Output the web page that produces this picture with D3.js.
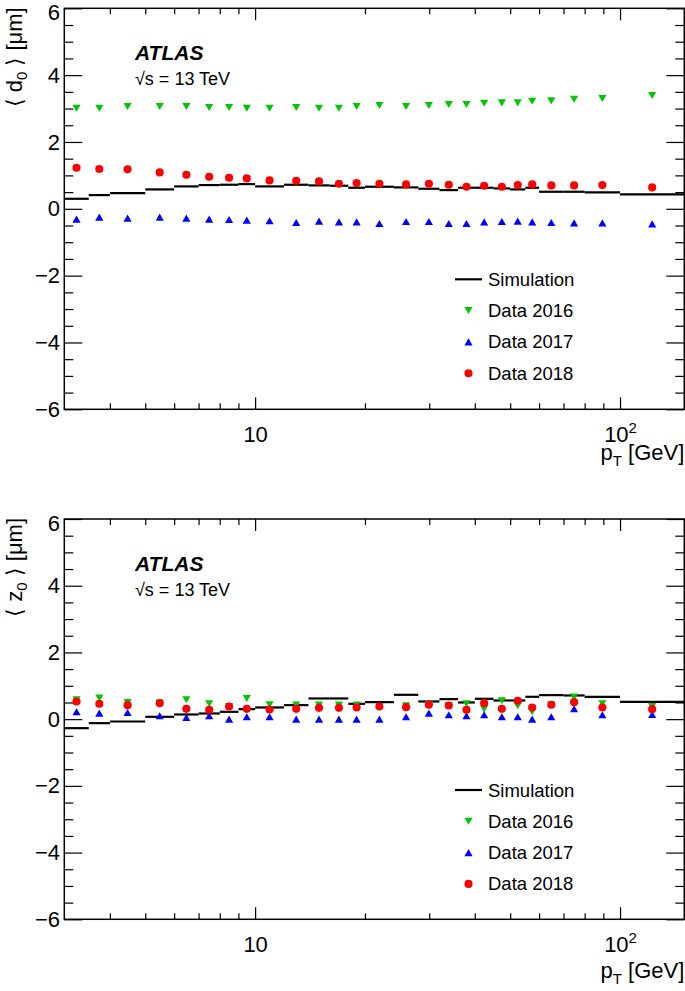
<!DOCTYPE html>
<html>
<head>
<meta charset="utf-8">
<script src="https://cdn.jsdelivr.net/npm/d3@7"></script>
<style>
body { margin: 0; background: #fff; }
svg text { font-family: "Liberation Sans", Arial, Helvetica, sans-serif; fill: #000; }
</style>
</head>
<body>
<svg id="chart" width="685" height="991"></svg>
<script>

// pT bin edges [GeV]
const pt_edges = [3, 3.5, 4, 5, 6, 7, 8, 9, 10, 12, 14, 16, 18, 20, 24, 28, 32, 36, 40, 45, 50, 55, 60, 70, 80, 100, 150];

const series_names = ['Simulation', 'Data 2016', 'Data 2017', 'Data 2018'];
const series_colors = ['#000000', '#00c800', '#0000ff', '#ff0000'];

const y_ticks = [-6, -4, -2, 0, 2, 4, 6];
const x_ticks = [10, 100];
const x_minor_ticks = [4, 5, 6, 7, 8, 9, 20, 30, 40, 50, 60, 70, 80, 90];

// <d0> [um]
const d0_sim  = [0.30, 0.41, 0.47, 0.58, 0.67, 0.71, 0.72, 0.74, 0.67, 0.72, 0.70, 0.69, 0.63, 0.66, 0.64, 0.60, 0.56, 0.63, 0.63, 0.61, 0.58, 0.63, 0.51, 0.51, 0.49, 0.43];
const d0_2016 = [3.01, 3.01, 3.06, 3.06, 3.06, 3.03, 3.03, 3.01, 3.01, 3.03, 3.01, 3.01, 3.06, 3.09, 3.06, 3.09, 3.12, 3.12, 3.16, 3.17, 3.17, 3.22, 3.23, 3.28, 3.30, 3.39];
const d0_2017 = [-0.31, -0.25, -0.28, -0.25, -0.28, -0.31, -0.32, -0.34, -0.36, -0.41, -0.37, -0.39, -0.39, -0.44, -0.38, -0.38, -0.44, -0.44, -0.39, -0.38, -0.37, -0.39, -0.41, -0.42, -0.42, -0.45];
const d0_2018 = [1.23, 1.19, 1.18, 1.09, 1.02, 0.96, 0.93, 0.91, 0.85, 0.84, 0.82, 0.75, 0.77, 0.75, 0.73, 0.75, 0.72, 0.66, 0.69, 0.66, 0.71, 0.73, 0.70, 0.70, 0.71, 0.64];

// <z0> [um]
const z0_sim  = [-0.27, -0.12, -0.07, 0.07, 0.14, 0.17, 0.22, 0.30, 0.35, 0.42, 0.62, 0.62, 0.46, 0.51, 0.73, 0.53, 0.60, 0.50, 0.61, 0.56, 0.56, 0.67, 0.72, 0.71, 0.67, 0.52];
const z0_2016 = [0.58, 0.63, 0.50, 0.48, 0.58, 0.46, 0.38, 0.62, 0.43, 0.42, 0.42, 0.42, 0.42, 0.38, 0.40, 0.43, 0.41, 0.46, 0.30, 0.55, 0.40, 0.22, 0.43, 0.66, 0.46, 0.38];
const z0_2017 = [0.22, 0.18, 0.20, 0.10, 0.05, 0.10, 0.00, 0.07, 0.07, 0.00, 0.00, 0.00, 0.00, 0.00, 0.07, 0.18, 0.13, 0.10, 0.13, 0.07, 0.07, 0.00, 0.07, 0.31, 0.13, 0.14];
const z0_2018 = [0.53, 0.46, 0.42, 0.48, 0.31, 0.28, 0.38, 0.31, 0.29, 0.31, 0.34, 0.34, 0.35, 0.38, 0.36, 0.43, 0.41, 0.28, 0.48, 0.31, 0.55, 0.35, 0.43, 0.51, 0.35, 0.30];

// triangles centred on their bounding box, like ROOT markers
const triUp = {
    draw(ctx, size){
        const s = Math.sqrt(size * 4 / Math.sqrt(3));
        const h = s * Math.sqrt(3) / 2;
        ctx.moveTo(0, -h/2);
        ctx.lineTo(s/2, h/2);
        ctx.lineTo(-s/2, h/2);
        ctx.closePath();
    }
};
const triDown = {
    draw(ctx, size){
        const s = Math.sqrt(size * 4 / Math.sqrt(3));
        const h = s * Math.sqrt(3) / 2;
        ctx.moveTo(0, h/2);
        ctx.lineTo(s/2, -h/2);
        ctx.lineTo(-s/2, -h/2);
        ctx.closePath();
    }
};

class MeanPlot {

    constructor( config, data ){
        this.config = {
            parent: config.parent,
            top: config.top,
            left: config.left || 64.3,
            width: config.width || 620,
            height: config.height || 401,
            var_name: config.var_name || 'd',
            xtitle_y: config.xtitle_y
        }
        this.data = data;
        this.init();
    }

    init(){
        let self = this;

        self.svg = d3.select( self.config.parent );

        self.chart = self.svg.append('g')
            .attr('transform', `translate(${self.config.left}, ${self.config.top})`);

        self.xscale = d3.scaleLog()
            .domain( [3, 150] )
            .range( [0, self.config.width] );

        self.yscale = d3.scaleLinear()
            .domain( [-6, 6] )
            .range( [self.config.height, 0] );

        self.bins = pt_edges.slice(0, -1).map( (lo, i) => ({
            lo: lo,
            hi: pt_edges[i+1],
            c: Math.sqrt(lo * pt_edges[i+1])
        }));

        // axis titles
        const ytitle = self.svg.append('text')
            .attr('transform', 'rotate(-90)')
            .attr('x', -self.config.top + 1)
            .attr('y', 22)
            .attr('text-anchor', 'end')
            .style('font-size', '22px');
        ytitle.append('tspan').text('\u27E8 ' + self.config.var_name);
        ytitle.append('tspan').attr('dy', 5).style('font-size', '15px').text('0');
        ytitle.append('tspan').attr('dy', -5).text(' \u27E9 [\u03BCm]');

        const xtitle = self.svg.append('text')
            .attr('x', self.config.left + self.config.width)
            .attr('y', self.config.xtitle_y)
            .attr('text-anchor', 'end')
            .style('font-size', '22px');
        xtitle.append('tspan').text('p');
        xtitle.append('tspan').attr('dy', 6).style('font-size', '15px').text('T');
        xtitle.append('tspan').attr('dy', -6).text(' [GeV]');

        // labels
        self.chart.append('text')
            .attr('x', 135 - self.config.left)
            .attr('y', 51.5)
            .style('font-size', '21px')
            .style('font-weight', 'bold')
            .style('font-style', 'italic')
            .text('ATLAS');

        self.chart.append('text')
            .attr('x', 135 - self.config.left)
            .attr('y', 76.5)
            .style('font-size', '18px')
            .text('\u221As = 13 TeV');

        self.axis_g = self.chart.append('g');
        self.marks_g = self.chart.append('g');
        self.legend_g = self.chart.append('g')
            .attr('transform', `translate(${455 - self.config.left}, 271)`);
    }

    render(){
        let self = this;
        const W = self.config.width, H = self.config.height;

        // simulation: horizontal bin segments
        self.marks_g.selectAll('.sim')
            .data( self.bins.map( (b, i) => ({...b, v: self.data.sim[i]}) ) )
            .join('line')
            .attr('class', 'sim')
            .attr('x1', d => self.xscale(d.lo))
            .attr('x2', d => self.xscale(d.hi))
            .attr('y1', d => self.yscale(d.v))
            .attr('y2', d => self.yscale(d.v))
            .attr('stroke', series_colors[0])
            .attr('stroke-width', 2.2);

        const markers = [
            { key: 'y2016', type: triDown, size: 29, color: series_colors[1] },
            { key: 'y2017', type: triUp, size: 29, color: series_colors[2] },
            { key: 'y2018', type: d3.symbolCircle, size: 52, color: series_colors[3] }
        ];

        markers.forEach( m => {
            self.marks_g.selectAll('.m-' + m.key)
                .data( self.bins.map( (b, i) => ({...b, v: self.data[m.key][i]}) ) )
                .join('path')
                .attr('class', 'm-' + m.key)
                .attr('transform', d => `translate(${self.xscale(d.c)}, ${self.yscale(d.v)})`)
                .attr('d', d3.symbol().type(m.type).size(m.size))
                .attr('fill', m.color);
        });

        // axes
        const y_minor = d3.range(-6, 6.01, 0.5).filter( v => !y_ticks.includes(v) );
        const fmt = d => d < 0 ? '\u2212' + Math.abs(d) : '' + d;

        const ax = self.axis_g;
        const clean = g => {
            g.select('.domain').remove();
            g.attr('font-size', null).attr('font-family', null);
            g.selectAll('line').attr('stroke-width', 1.2);
        };

        const yg = ax.append('g')
            .call( d3.axisLeft(self.yscale).tickValues(y_ticks).tickSize(-18).tickPadding(4.3).tickFormat(fmt) )
            .call( clean );
        yg.selectAll('text').style('font-size', '22px');
        // ROOT pushes the top label down so it stays inside the pad
        yg.selectAll('.tick text').filter(d => d === 6).attr('y', 4);

        ax.append('g')
            .call( d3.axisLeft(self.yscale).tickValues(y_minor).tickSize(-9).tickFormat('') )
            .call( clean );
        ax.append('g')
            .attr('transform', `translate(${W}, 0)`)
            .call( d3.axisRight(self.yscale).tickValues(y_ticks).tickSize(-18).tickFormat('') )
            .call( clean );
        ax.append('g')
            .attr('transform', `translate(${W}, 0)`)
            .call( d3.axisRight(self.yscale).tickValues(y_minor).tickSize(-9).tickFormat('') )
            .call( clean );

        const xg = ax.append('g')
            .attr('transform', `translate(0, ${H})`)
            .call( d3.axisBottom(self.xscale).tickValues(x_ticks).tickSize(-12).tickPadding(16.8).tickFormat(d => '10') )
            .call( clean );
        xg.selectAll('text').style('font-size', '22px');
        xg.selectAll('.tick text').filter(d => d === 100)
            .append('tspan')
            .attr('dy', -9)
            .style('font-size', '15px')
            .text('2');

        ax.append('g')
            .attr('transform', `translate(0, ${H})`)
            .call( d3.axisBottom(self.xscale).tickValues(x_minor_ticks).tickSize(-6).tickFormat('') )
            .call( clean );
        ax.append('g')
            .call( d3.axisTop(self.xscale).tickValues(x_ticks).tickSize(-12).tickFormat('') )
            .call( clean );
        ax.append('g')
            .call( d3.axisTop(self.xscale).tickValues(x_minor_ticks).tickSize(-6).tickFormat('') )
            .call( clean );

        ax.append('rect')
            .attr('width', W)
            .attr('height', H)
            .attr('fill', 'none')
            .attr('stroke', '#000')
            .attr('stroke-width', 1.5);

        // legend
        const row = 31.3;
        const lg = self.legend_g;
        lg.append('line')
            .attr('x1', 0).attr('x2', 27)
            .attr('y1', 0).attr('y2', 0)
            .attr('stroke', series_colors[0])
            .attr('stroke-width', 2.2);
        markers.forEach( (m, i) => {
            lg.append('path')
                .attr('transform', `translate(13.5, ${row * (i+1)})`)
                .attr('d', d3.symbol().type(m.type).size(m.size))
                .attr('fill', m.color);
        });
        lg.selectAll('.leg-text')
            .data(series_names)
            .join('text')
            .attr('class', 'leg-text')
            .attr('x', 33)
            .attr('y', (d, i) => row * i + 6.5)
            .style('font-size', '18.5px')
            .text(d => d);
    }
}

const top_plot = new MeanPlot(
    { parent: '#chart', top: 8.3, height: 401, var_name: 'd', xtitle_y: 460 },
    { sim: d0_sim, y2016: d0_2016, y2017: d0_2017, y2018: d0_2018 }
);
top_plot.render();

const bottom_plot = new MeanPlot(
    { parent: '#chart', top: 519, height: 400.3, var_name: 'z', xtitle_y: 978 },
    { sim: z0_sim, y2016: z0_2016, y2017: z0_2017, y2018: z0_2018 }
);
bottom_plot.render();

</script>
</body>
</html>
